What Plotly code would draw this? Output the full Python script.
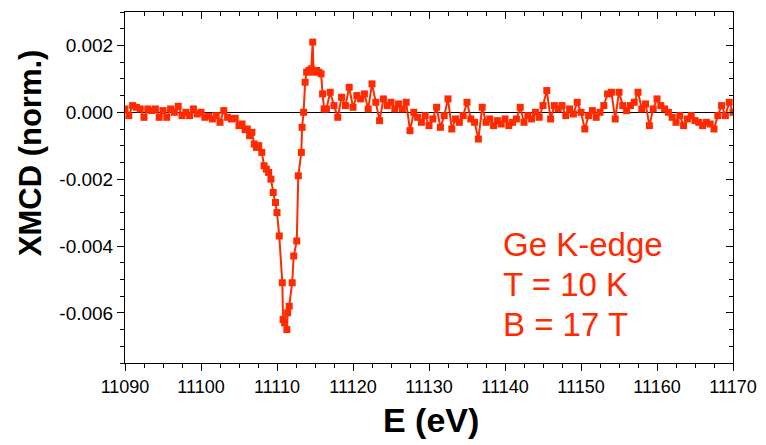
import plotly.graph_objects as go

# ---- data (Ge K-edge XMCD) ----
energy = [
    # pre-edge
    11090.0, 11090.5, 11091.0, 11091.5, 11092.0, 11092.5, 11093.0, 11093.5, 11094.0, 11094.5,
    11095.0, 11095.5, 11096.0, 11096.5, 11097.0, 11097.5, 11098.0, 11098.5, 11099.0, 11099.5,
    11100.0, 11100.5, 11101.0, 11101.5, 11102.0, 11102.5, 11103.0, 11103.5, 11104.0,
    # edge
    11104.5, 11105.0, 11105.4, 11105.8, 11106.1, 11106.4, 11106.7, 11107.0, 11107.3, 11107.6,
    11108.0, 11108.3, 11108.6, 11108.9, 11109.2, 11109.5, 11109.8, 11110.0, 11110.3, 11110.7,
    11110.8, 11111.0, 11111.3, 11111.4, 11111.6, 11112.0, 11112.2, 11112.6, 11112.8, 11113.2,
    11113.3, 11113.5, 11113.7, 11113.9, 11114.2, 11114.5, 11114.7, 11114.8, 11115.2, 11115.5,
    11115.8, 11116.0, 11116.2,
    # post-edge
    11116.5, 11117.0, 11117.5, 11118.0, 11118.5, 11119.0, 11119.5, 11120.0, 11120.5, 11121.0,
    11121.5, 11122.0, 11122.5, 11123.0, 11123.5, 11124.0, 11124.5, 11125.0, 11125.5, 11126.0,
    11126.5, 11127.0, 11127.5, 11128.0, 11128.5, 11129.0, 11129.5, 11130.0, 11130.5, 11131.0,
    11131.5, 11132.0, 11132.5, 11133.0, 11133.5, 11134.0, 11134.5, 11135.0, 11135.5, 11136.0,
    11136.5, 11137.0, 11137.5, 11138.0, 11138.5, 11139.0, 11139.5, 11140.0, 11140.5, 11141.0,
    11141.5, 11142.0, 11142.5, 11143.0, 11143.5, 11144.0, 11144.5, 11145.0, 11145.5, 11146.0,
    11146.5, 11147.0, 11147.5, 11148.0, 11148.5, 11149.0, 11149.5, 11150.0, 11150.5, 11151.0,
    11151.5, 11152.0, 11152.5, 11153.0, 11153.5, 11154.0, 11154.5, 11155.0, 11155.5, 11156.0,
    11156.5, 11157.0, 11157.5, 11158.0, 11158.5, 11159.0, 11159.5, 11160.0, 11160.5, 11161.0,
    11161.5, 11162.0, 11162.5, 11163.0, 11163.5, 11164.0, 11164.5, 11165.0, 11165.5, 11166.0,
    11166.5, 11167.0, 11167.5, 11168.0, 11168.5, 11169.0, 11169.5, 11170.0,
]

xmcd = [
    # pre-edge
    0.00010, -0.00010, 0.00020, 0.00015, 0.00010, -0.00015, 0.00010, 0.00005, 0.00010, -0.00015,
    0.00005, -0.00015, 0.00010, 0.00000, 0.00018, -0.00010, 0.00000, -0.00010, 0.00010, -0.00005,
    0.00000, -0.00015, -0.00012, -0.00020, -0.00010, -0.00030, 0.00005, -0.00015, -0.00020,
    # edge
    -0.00018, -0.00040, -0.00035, -0.00052, -0.00050, -0.00070, -0.00060, -0.00095, -0.00105, -0.00100,
    -0.00120, -0.00160, -0.00170, -0.00180, -0.00200, -0.00240, -0.00270, -0.00300, -0.00370, -0.00510,
    -0.00620, -0.00630, -0.00650, -0.00600, -0.00580, -0.00510, -0.00430, -0.00385, -0.00190, -0.00120,
    -0.00045, 0.00000, 0.00090, 0.00120, 0.00125, 0.00130, 0.00210, 0.00120, 0.00125, 0.00120,
    0.00115, 0.00055, 0.00010,
    # post-edge
    0.00010, 0.00060, 0.00020, -0.00015, 0.00045, 0.00020, 0.00075, 0.00015, 0.00050, 0.00040,
    0.00055, 0.00010, 0.00085, 0.00030, -0.00025, 0.00040, 0.00020, 0.00030, 0.00010, 0.00025,
    0.00010, 0.00030, -0.00055, 0.00000, -0.00015, -0.00030, -0.00010, -0.00040, -0.00020, 0.00015,
    -0.00045, -0.00010, 0.00040, -0.00050, -0.00020, -0.00030, -0.00010, 0.00030, -0.00020, -0.00030,
    -0.00080, 0.00015, -0.00030, -0.00020, -0.00040, -0.00025, -0.00035, -0.00020, -0.00040, -0.00030,
    -0.00020, 0.00015, -0.00030, -0.00010, -0.00020, 0.00000, -0.00015, 0.00020, 0.00065, -0.00020,
    0.00020, 0.00010, 0.00020, -0.00010, 0.00010, -0.00005, 0.00030, 0.00000, -0.00050, -0.00010,
    0.00005, -0.00015, 0.00000, 0.00020, 0.00055, 0.00060, -0.00020, 0.00060, 0.00020, 0.00005,
    0.00020, 0.00030, 0.00060, 0.00010, 0.00025, -0.00040, 0.00010, 0.00040, 0.00020, 0.00010,
    0.00000, -0.00015, -0.00030, -0.00010, -0.00040, -0.00020, -0.00010, -0.00025, -0.00030, -0.00040,
    -0.00030, -0.00035, -0.00050, -0.00010, 0.00020, -0.00010, 0.00030, 0.00000,
]

y_tickvals = [-0.006, -0.004, -0.002, 0.000, 0.002]
y_ticktext = ["-0.006", "-0.004", "-0.002", "0.000", "0.002"]
label_lines = ["Ge K-edge", "T = 10 K", "B = 17 T"]

RED = "#FF2A00"
x_range = [11090, 11170]
y_range = [-0.0075, 0.003]

fig = go.Figure()
fig.add_trace(go.Scatter(
    x=energy, y=xmcd, mode="lines+markers",
    line=dict(color=RED, width=2),
    marker=dict(symbol="square", size=7, color=RED, line=dict(width=0)),
    showlegend=False,
))
# empty trace so the top/right tick axes get drawn
fig.add_trace(go.Scatter(x=[], y=[], xaxis="x2", yaxis="y2", showlegend=False))

# page body has an 8px margin, so the figure is 8px smaller and margins shifted
fig.update_layout(
    width=758, height=437,
    margin=dict(l=117, r=33, t=4, b=82),
    paper_bgcolor="white", plot_bgcolor="white",
    font=dict(family="Arial", color="black"),
    xaxis=dict(
        range=x_range, tick0=11090, dtick=10, ticks="outside", ticklen=7,
        tickcolor="black", showline=True, linecolor="black", linewidth=1,
        mirror=True, showgrid=False, zeroline=False,
        tickfont=dict(size=18), tickformat="d",
        minor=dict(dtick=2.5, ticks="outside", ticklen=4, tickcolor="black"),
    ),
    yaxis=dict(
        range=y_range, tickvals=y_tickvals, ticktext=y_ticktext,
        ticks="outside", ticklen=7, tickcolor="black",
        showline=True, linecolor="black", linewidth=1, mirror=True,
        showgrid=False, zeroline=True, zerolinecolor="black", zerolinewidth=1,
        tickfont=dict(size=19),
        minor=dict(tick0=0, dtick=0.0005, ticks="outside", ticklen=4, tickcolor="black"),
    ),
    xaxis2=dict(
        overlaying="x", side="top", range=x_range, tick0=11090, dtick=10,
        ticks="inside", ticklen=7, tickcolor="black", showticklabels=False,
        showgrid=False, zeroline=False, showline=False,
        minor=dict(dtick=2.5, ticks="inside", ticklen=4, tickcolor="black"),
    ),
    yaxis2=dict(
        overlaying="y", side="right", range=y_range, tickvals=y_tickvals,
        ticks="inside", ticklen=7, tickcolor="black", showticklabels=False,
        showgrid=False, zeroline=False, showline=False,
        minor=dict(tick0=0, dtick=0.0005, ticks="inside", ticklen=4, tickcolor="black"),
    ),
)

# axis titles
fig.add_annotation(text="<b>XMCD (norm.)</b>", xref="paper", yref="paper",
                   x=-0.156, y=0.598, textangle=-90, showarrow=False,
                   xanchor="center", yanchor="middle",
                   font=dict(size=31, family="Arial", color="black"))
fig.add_annotation(text="<b>E (eV)</b>", xref="paper", yref="paper",
                   x=0.503, y=-0.162, showarrow=False,
                   xanchor="center", yanchor="middle",
                   font=dict(size=34, family="Arial", color="black"))

# sample label
for txt, yy in zip(label_lines, [0.337, 0.223, 0.109]):
    fig.add_annotation(text=txt, xref="paper", yref="paper", x=0.618, y=yy,
                       showarrow=False, xanchor="left", yanchor="middle",
                       font=dict(size=33, family="Arial", color=RED))

fig.write_html("out.html")
